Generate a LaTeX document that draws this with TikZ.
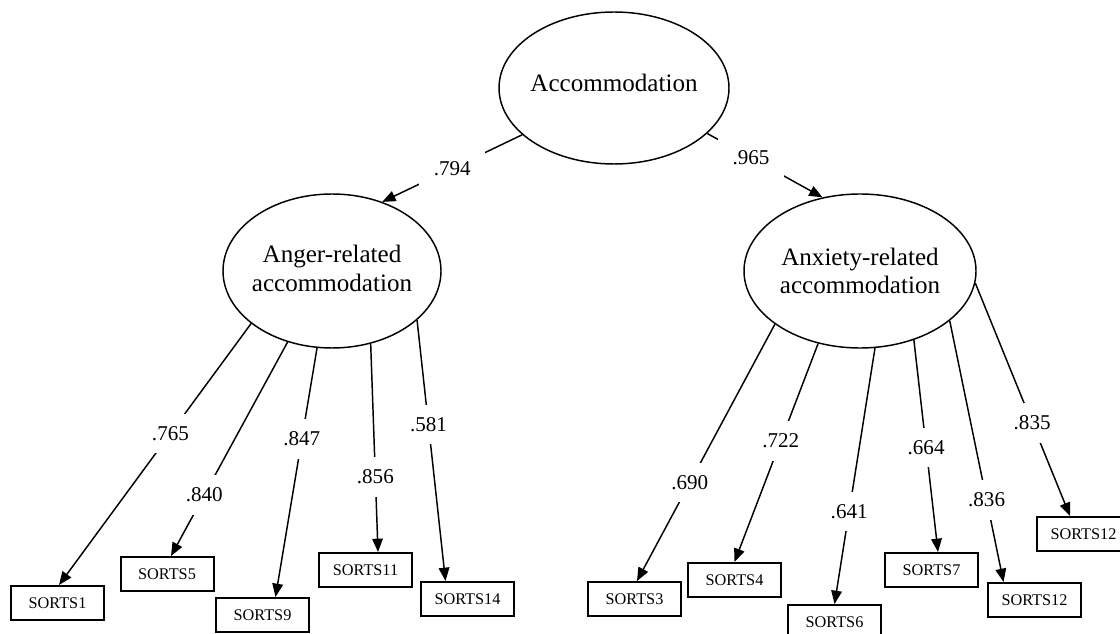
\documentclass[tikz,border=0pt]{standalone}
\usepackage{fontspec}
\setmainfont{Liberation Serif}
\usetikzlibrary{shapes.geometric,arrows.meta,calc}
\begin{document}
\begin{tikzpicture}[x=0.75pt,y=-0.75pt,
  latent/.style={ellipse,draw,line width=1.1pt,inner sep=0pt},
  lvtext/.style={font=\fontsize{18.8}{21.5}\selectfont,align=center},
  obs/.style={rectangle,draw,line width=1.5pt,minimum width=69.75pt,minimum height=25.5pt,inner sep=0pt,font=\fontsize{12.2}{13}\selectfont},
  ld/.style={fill=white,inner xsep=11pt,inner ysep=9.5pt,font=\fontsize{15.8}{17}\selectfont},
  pth/.style={line width=1.1pt,-{Triangle[length=10pt,width=8pt]}}]
\useasboundingbox (0,0) rectangle (1120,634);

% latent variables
\node[latent,minimum width=172.5pt,minimum height=114pt,
  label={[lvtext,yshift=3.5pt]center:Accommodation}] (top) at (614,88) {};
\node[latent,minimum width=163.5pt,minimum height=115.5pt,
  label={[lvtext,yshift=2pt]center:Anger-related\\accommodation}] (anger) at (332,271) {};
\node[latent,minimum width=174pt,minimum height=115.5pt,
  label={[lvtext]center:Anxiety-related\\accommodation}] (anx) at (860,271) {};

% observed indicators
\node[obs] (s1)  at (57.5,603) {SORTS1};
\node[obs] (s5)  at (167,574) {SORTS5};
\node[obs] (s9)  at (262.5,615) {SORTS9};
\node[obs] (s11) at (365.5,570) {SORTS11};
\node[obs] (s14) at (467.5,599) {SORTS14};
\node[obs] (s3)  at (634.5,599) {SORTS3};
\node[obs] (s4)  at (734.5,580) {SORTS4};
\node[obs] (s6)  at (834.5,622) {SORTS6};
\node[obs] (s7)  at (931.5,570) {SORTS7};
\node[obs] (s12a) at (1034.5,600) {SORTS12};
\node[obs] (s12b) at (1083.5,534) {SORTS12};

% second-order paths
\draw[pth] (top.-153.4) -- (anger.54.8) node[ld,pos=0.5]{.794};
\draw[pth] (top.-26.8) -- (anx.117.8) node[ld,pos=0.38]{.965};

% anger loadings
\draw[pth] (anger.-147.6) -- ($(s1.north)+(1.5,0)$) node[ld,pos=0.42]{.765};
\draw[pth] (anger.-122) -- ($(s5.north)+(4,0)$) node[ld,pos=0.715]{.840};
\draw[pth] (anger.-101.5) -- ($(s9.north)+(13,0)$) node[ld,pos=0.366]{.847};
\draw[pth] (anger.-62.9) -- ($(s11.north)+(12.5,0)$) node[ld,pos=0.64]{.856};
\draw[pth] (anger.-30.7) -- ($(s14.north)+(-22,0)$) node[ld,pos=0.40]{.581};

% anxiety loadings
\draw[pth] (anx.-148.1) -- ($(s3.north)+(2.5,0)$) node[ld,pos=0.617]{.690};
\draw[pth] (anx.-120.2) -- (s4.north) node[ld,pos=0.446]{.722};
\draw[pth] (anx.-79.8) -- (s6.north) node[ld,pos=0.638]{.641};
\draw[pth] (anx.-52.5) -- ($(s7.north)+(6.5,0)$) node[ld,pos=0.507]{.664};
\draw[pth] (anx.-29.5) -- ($(s12a.north)+(-31,0)$) node[ld,pos=0.686]{.836};
\draw[pth] (anx.-6.9) -- ($(s12b.north)+(-13.5,0)$) node[ld,pos=0.60]{.835};
\end{tikzpicture}
\end{document}
